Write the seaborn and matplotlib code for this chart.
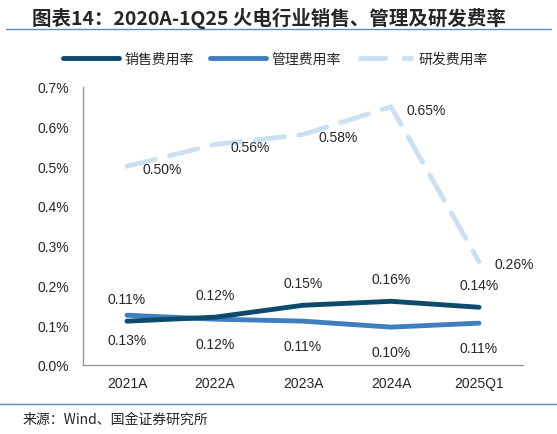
import numpy as np
import pandas as pd
import matplotlib
matplotlib.use("Agg")
import matplotlib.pyplot as plt
import seaborn as sns
from matplotlib.lines import Line2D
from matplotlib.ticker import FixedLocator

categories = ["2021A", "2022A", "2023A", "2024A", "2025Q1"]
sales_rate = [0.110, 0.120, 0.150, 0.160, 0.145]
admin_rate = [0.125, 0.115, 0.110, 0.095, 0.105]
rd_rate = [0.500, 0.555, 0.580, 0.650, 0.260]
sales_labels = ["0.11%", "0.12%", "0.15%", "0.16%", "0.14%"]
admin_labels = ["0.13%", "0.12%", "0.11%", "0.10%", "0.11%"]
rd_labels = ["0.50%", "0.56%", "0.58%", "0.65%", "0.26%"]
y_ticks = [0.0, 0.1, 0.2, 0.3, 0.4, 0.5, 0.6, 0.7]

sns.set_style("white")
plt.rcParams['font.family'] = ['Liberation Sans', 'Noto Sans CJK SC', 'DejaVu Sans']

c_sales = "#0d4a6b"
c_admin = "#3f7fbf"
c_rd = "#cde0f1"

df = pd.DataFrame({"x": np.arange(len(categories)),
                   "sales": sales_rate, "admin": admin_rate, "rd": rd_rate})

fig = plt.figure(figsize=(5.57, 4.35), dpi=100)
ax = fig.add_axes([0.149, 0.159, 0.790, 0.639])

sns.lineplot(data=df, x="x", y="rd", ax=ax, color=c_rd, lw=3.5,
             dashes=False, linestyle=(0, (6, 3)))
ax.lines[-1].set_dash_capstyle("round")
sns.lineplot(data=df, x="x", y="admin", ax=ax, color=c_admin, lw=3.5)
sns.lineplot(data=df, x="x", y="sales", ax=ax, color=c_sales, lw=3.5)

ax.set_xlim(-0.5, len(categories) - 0.5)
ax.set_ylim(0, 0.7)
ax.set_xticks(df["x"])
ax.set_xticklabels(categories, fontsize=10)
ax.xaxis.set_minor_locator(FixedLocator(np.arange(0.5, len(categories), 1.0)))
ax.tick_params(axis="x", which="major", length=0, pad=8)
ax.tick_params(axis="x", which="minor", length=4, direction="in", color="#999999")
ax.set_yticks(y_ticks)
ax.set_yticklabels([f"{v:.1f}%" for v in y_ticks], fontsize=10)
ax.tick_params(axis="y", length=4, direction="in", color="#999999", pad=10)
ax.set_xlabel("")
ax.set_ylabel("")
for s in ["top", "right"]:
    ax.spines[s].set_visible(False)
for s in ["left", "bottom"]:
    ax.spines[s].set_color("#999999")
    ax.spines[s].set_linewidth(1)

lab_font = ['Noto Sans CJK SC', 'DejaVu Sans']
for i in range(len(categories)):
    ax.annotate(sales_labels[i], (i, sales_rate[i]), xytext=(0, 16),
                textcoords="offset points", ha="center", va="center", fontsize=10)
    ax.annotate(admin_labels[i], (i, admin_rate[i]), xytext=(0, -18),
                textcoords="offset points", ha="center", va="center", fontsize=10)
    ax.annotate(rd_labels[i], (i, rd_rate[i]), xytext=(11, -2),
                textcoords="offset points", ha="left", va="center", fontsize=10)

handles = [Line2D([], [], color=c_sales, lw=3.5),
           Line2D([], [], color=c_admin, lw=3.5),
           Line2D([], [], color=c_rd, lw=3.5, linestyle=(0, (6, 3)))]
fig.legend(handles, ["销售费用率", "管理费用率", "研发费用率"], loc="center",
           bbox_to_anchor=(0.495, 0.863), ncol=3, frameon=False,
           handlelength=4, columnspacing=1.2, handletextpad=0.4,
           prop={'family': lab_font, 'size': 10, 'weight': 'light'})

fig.text(0.057, 0.957, "图表14：2020A-1Q25 火电行业销售、管理及研发费率",
         fontsize=14, fontweight="bold", style="italic", family=lab_font,
         ha="left", va="center")
fig.add_artist(Line2D([0.01, 0.99], [0.93, 0.93], color="#5b8db8", lw=1))
fig.add_artist(Line2D([0.0, 1.0], [0.069, 0.069], color="#5b8db8", lw=1))
fig.text(0.04, 0.035, "来源：Wind、国金证券研究所", fontsize=10, family=lab_font,
         ha="left", va="center")

fig.savefig("out.png", dpi=100)
